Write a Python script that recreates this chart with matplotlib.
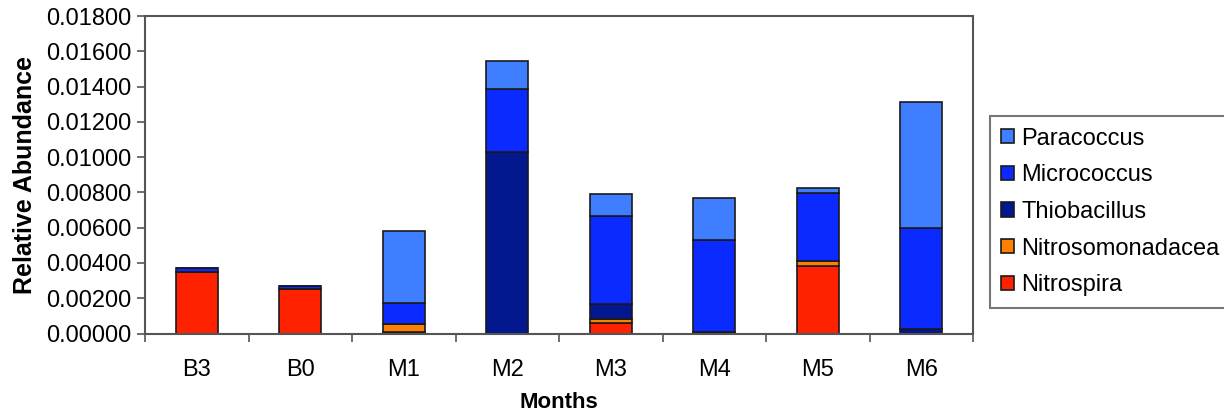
import numpy as np
import matplotlib.pyplot as plt

plt.rcParams['font.family'] = ['Liberation Sans', 'DejaVu Sans']

months = ["B3", "B0", "M1", "M2", "M3", "M4", "M5", "M6"]

# stacked from bottom to top
nitrospira = [0.00350, 0.00250, 0.00010, 0.00000, 0.00060, 0.00003, 0.00382, 0.00000]
nitrosomonadacea = [0.00000, 0.00000, 0.00045, 0.00000, 0.00020, 0.00007, 0.00028, 0.00000]
thiobacillus = [0.00000, 0.00000, 0.00000, 0.01030, 0.00090, 0.00000, 0.00000, 0.00027]
micrococcus = [0.00020, 0.00017, 0.00117, 0.00356, 0.00496, 0.00520, 0.00384, 0.00570]
paracoccus = [0.00000, 0.00000, 0.00410, 0.00159, 0.00124, 0.00237, 0.00030, 0.00713]

series = [
    ("Nitrospira", nitrospira, "#ff2200"),
    ("Nitrosomonadacea", nitrosomonadacea, "#ff7f00"),
    ("Thiobacillus", thiobacillus, "#03188f"),
    ("Micrococcus", micrococcus, "#0a2aff"),
    ("Paracoccus", paracoccus, "#3f7fff"),
]

fig = plt.figure(figsize=(12.24, 4.11), dpi=100)
ax = fig.add_axes([145 / 1224, 1 - 333.5 / 411, (973 - 145) / 1224, (333.5 - 16) / 411])

x = np.arange(len(months))
bottom = np.zeros(len(months))
handles = []
for name, vals, color in series:
    b = ax.bar(x, vals, width=0.41, bottom=bottom, color=color,
               edgecolor="#1a1a1a", linewidth=1.2, label=name)
    bottom += np.array(vals)
    handles.append(b)

ax.set_xlim(-0.5, len(months) - 0.5)
ax.set_ylim(0, 0.018)
ax.set_yticks(np.arange(0, 0.0181, 0.002))
ax.set_yticklabels([f"{v:.5f}" for v in np.arange(0, 0.0181, 0.002)])
ax.set_xticks(x)
ax.set_xticklabels(months)
ax.set_xticks(np.arange(-0.5, len(months), 1), minor=True)
ax.tick_params(axis="x", which="major", length=0, pad=18, labelsize=17)
ax.tick_params(axis="x", which="minor", length=6, width=1.2, color="#555555")
ax.tick_params(axis="y", length=6, width=1.2, color="#555555", labelsize=17, pad=4)

for s in ax.spines.values():
    s.set_color("#555555")
    s.set_linewidth(1.5)

ax.set_xlabel("Months", fontsize=16, fontweight="bold", labelpad=8)
ax.set_ylabel("Relative Abundance", fontsize=18, fontweight="bold", labelpad=6)

leg = ax.legend(handles[::-1], [s[0] for s in series][::-1],
                loc="center left", bbox_to_anchor=(1.02, 0.383),
                fontsize=17, frameon=True, fancybox=False,
                handlelength=0.55, handleheight=0.55, handletextpad=0.3,
                labelspacing=0.62, borderpad=0.5, borderaxespad=0)
leg.get_frame().set_edgecolor("#555555")
leg.get_frame().set_linewidth(1.5)

fig.savefig("out.png", dpi=100)
